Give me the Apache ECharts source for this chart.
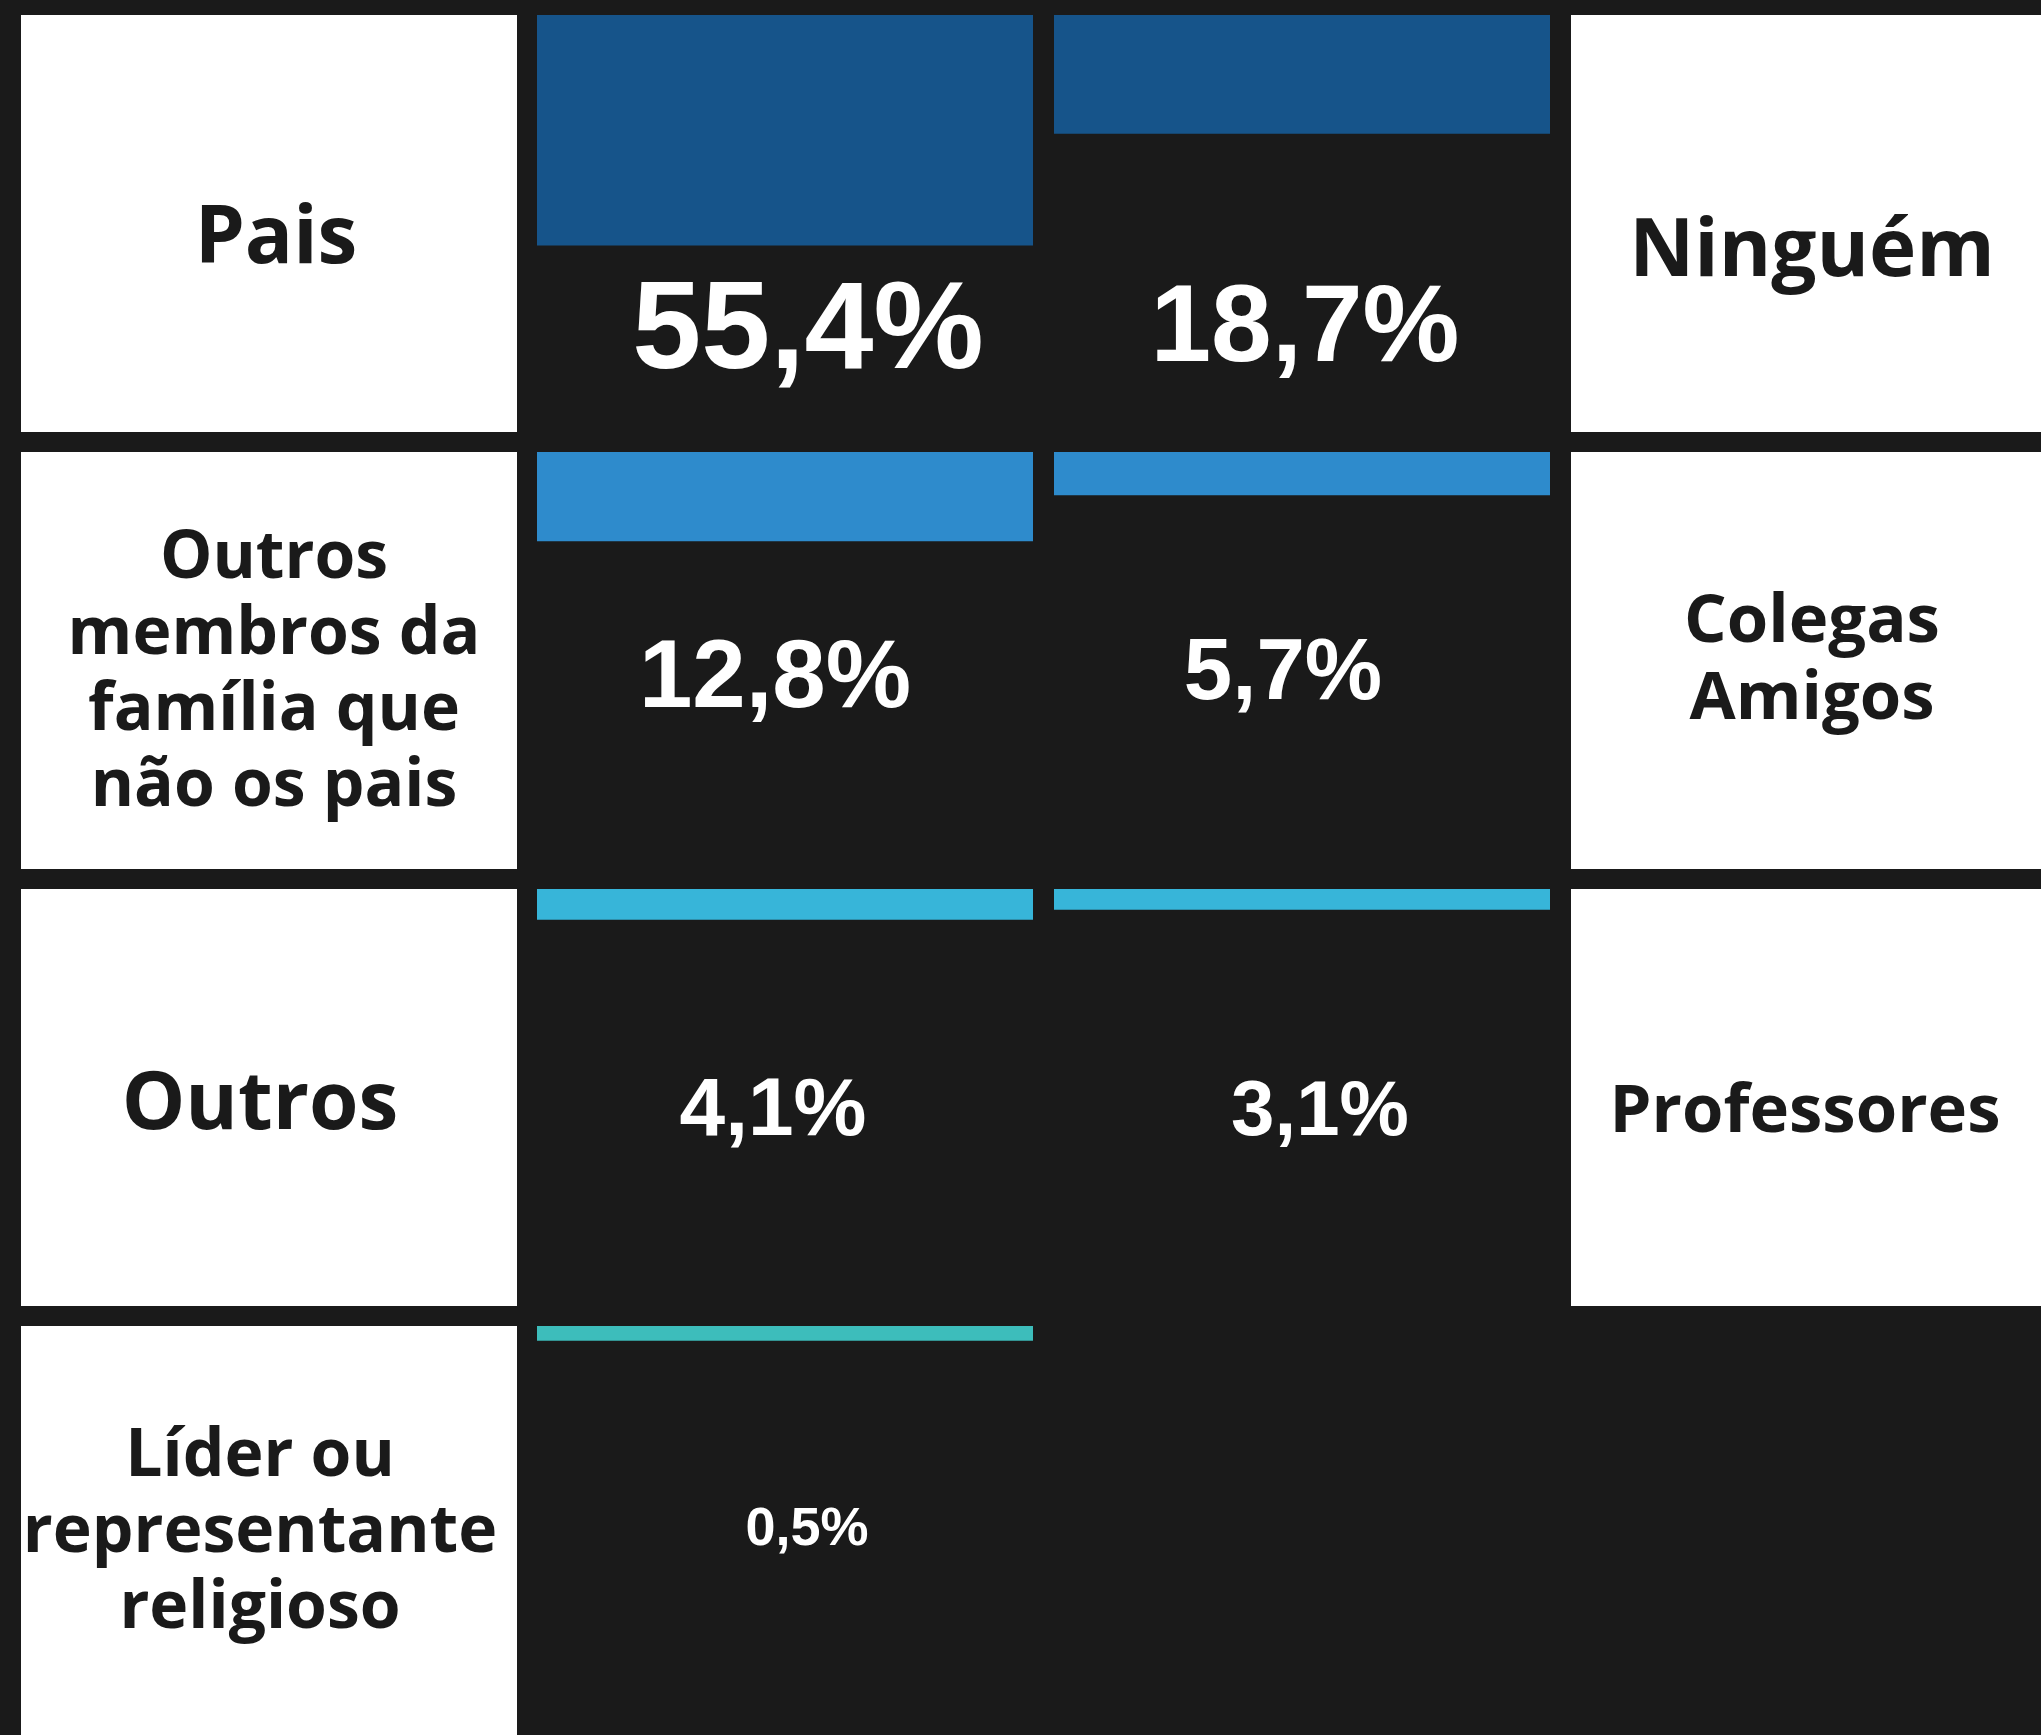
<!DOCTYPE html>
<html lang="pt">
<head>
    <meta charset="UTF-8">
    <title>Com quem conversa</title>
    <script src="https://cdn.jsdelivr.net/npm/echarts@6.0.0/dist/echarts.min.js"></script>
    <style>
        html, body { margin: 0; padding: 0; background: #1a1a1a; }
        #main { width: 2041px; height: 1735px; }
    </style>
</head>
<body>
<div id="main"></div>
<script type="text/javascript">
    // categorias: coluna da esquerda e da direita
    var leftNames = ['Pais', 'Outros\nmembros da\nfamília que\nnão os pais', 'Outros', 'Líder ou\nrepresentante\nreligioso'];
    var rightNames = ['Ninguém', 'Colegas\nAmigos', 'Professores'];

    // percentuais mostrados
    var leftValues = [55.4, 12.8, 4.1, 0.5];
    var rightValues = [18.7, 5.7, 3.1];

    // comprimento das barras como desenhadas no original (% da altura da célula)
    var leftBars = [55.3, 21.4, 7.4, 3.6];
    var rightBars = [28.5, 10.4, 5.0];

    var rowColors = ['#16548a', '#2e8bcc', '#37b5d9', '#3dbdbb'];

    // layout das células
    var colX = [21, 537, 1054, 1571];
    var rowY = [15, 452, 889, 1326];
    var cellW = 496, cellH = 417;

    // posição/tamanho dos textos (y = centro das maiúsculas)
    var leftLabelPos = [{x: 276, y: 231, s: 80}, {x: 274, y: 666, s: 66}, {x: 260, y: 1097, s: 80}, {x: 260, y: 1526, s: 66}];
    var rightLabelPos = [{x: 1812, y: 244, s: 80}, {x: 1812, y: 654, s: 67}, {x: 1805, y: 1106, s: 67}];
    var leftPctPos = [{x: 808, y: 324, s: 124}, {x: 775, y: 673, s: 96}, {x: 773, y: 1106, s: 82}, {x: 807, y: 1526, s: 54}];
    var rightPctPos = [{x: 1305, y: 322, s: 109}, {x: 1283, y: 668, s: 87}, {x: 1320, y: 1107, s: 78}];

    function fmt(v) {
        return v.toFixed(1).replace('.', ',') + '%';
    }

    var grids = [], xAxes = [], yAxes = [], series = [], graphics = [];

    function addBar(col, row, len) {
        var i = grids.length;
        grids.push({left: colX[col], top: rowY[row], width: cellW, height: cellH});
        xAxes.push({gridIndex: i, type: 'category', data: [''], show: false});
        yAxes.push({gridIndex: i, type: 'value', min: 0, max: 100, inverse: true, show: false});
        series.push({
            type: 'bar', xAxisIndex: i, yAxisIndex: i,
            data: [len], barWidth: '100%', silent: true,
            itemStyle: {color: rowColors[row]}
        });
    }

    function addBox(col, row, name, pos) {
        graphics.push({
            type: 'rect', z: 1,
            shape: {x: colX[col], y: rowY[row], width: cellW, height: cellH},
            style: {fill: '#ffffff'}
        });
        graphics.push({
            type: 'text', z: 2, x: pos.x, y: pos.y + pos.s * 0.11,
            style: {
                text: name, fill: '#1a1a1a',
                fontFamily: '"Open Sans"', fontWeight: 'bold', fontSize: pos.s,
                lineHeight: Math.round(pos.s * 1.15),
                align: 'center', verticalAlign: 'middle'
            }
        });
    }

    function addPct(v, pos) {
        graphics.push({
            type: 'text', z: 2, x: pos.x, y: pos.y + pos.s * 0.08,
            style: {
                text: fmt(v), fill: '#ffffff',
                fontFamily: '"Liberation Sans"', fontWeight: 'bold', fontSize: pos.s,
                align: 'center', verticalAlign: 'middle'
            }
        });
    }

    for (var i = 0; i < leftNames.length; i++) {
        addBox(0, i, leftNames[i], leftLabelPos[i]);
        addBar(1, i, leftBars[i]);
        addPct(leftValues[i], leftPctPos[i]);
    }
    for (var j = 0; j < rightNames.length; j++) {
        addBar(2, j, rightBars[j]);
        addPct(rightValues[j], rightPctPos[j]);
        addBox(3, j, rightNames[j], rightLabelPos[j]);
    }

    var myChart = echarts.init(document.getElementById('main'));
    var option = {
        backgroundColor: '#1a1a1a',
        animation: false,
        grid: grids,
        xAxis: xAxes,
        yAxis: yAxes,
        series: series,
        graphic: graphics
    };
    myChart.setOption(option);
</script>
</body>
</html>
